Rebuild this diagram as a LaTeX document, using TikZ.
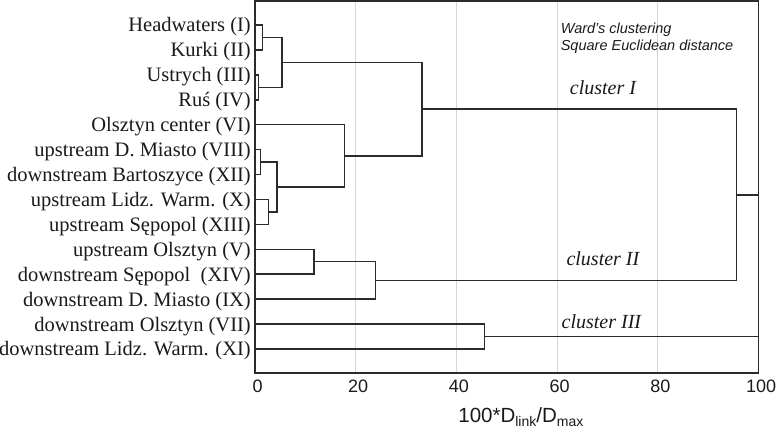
\documentclass[tikz,border=0pt]{standalone}
\usepackage{fontspec}
\setmainfont{Liberation Serif}
\setsansfont{Liberation Sans}
\usepackage{xcolor}
\usepackage{tikz}
\usetikzlibrary{positioning}
\definecolor{linkgray}{HTML}{2B2B2B}
\definecolor{gridgray}{HTML}{D6D6D6}
\definecolor{textblack}{HTML}{1A1A1A}
\newcommand{\lowsub}[1]{\raisebox{-4pt}{\fontsize{14}{14}\selectfont #1}}

\begin{document}
\begin{tikzpicture}[
  x=5.035pt, y=-1pt,
  leafname/.style={anchor=base east, inner sep=0pt, yshift=-7pt,
               text=textblack, font=\fontsize{20.5}{24}\selectfont},
  branch/.style={line width=1.5pt, color=linkgray},
  plotframe/.style={line width=1.6pt, color=linkgray},
  gridline/.style={line width=1.2pt, color=gridgray},
  ticklabel/.style={anchor=base, inner sep=0pt, text=textblack,
               font=\sffamily\fontsize{18}{20}\selectfont},
  clustername/.style={anchor=base, inner sep=0pt, text=textblack,
               font=\itshape\fontsize{20}{24}\selectfont},
  method/.style={anchor=base west, inner sep=0pt, text=textblack,
               font=\sffamily\itshape\fontsize{14.5}{16}\selectfont},
]
\useasboundingbox (-255pt,0pt) rectangle (525pt,-430pt);

% grid lines
\foreach \v in {20,40,60,80}
  \draw[gridline] (\v,1) -- (\v,373);

% leaves
\foreach \lab [count=\i] in {Headwaters (I), Kurki (II), Ustrych (III), Ruś (IV),
    Olsztyn center (VI), upstream D. Miasto (VIII), downstream Bartoszyce (XII),
    upstream Lidz. Warm. (X), upstream Sępopol (XIII), upstream Olsztyn (V),
    downstream Sępopol \ (XIV), downstream D. Miasto (IX),
    downstream Olsztyn (VII), downstream Lidz. Warm. (XI)}{
  \coordinate (l\i) at (0,{25+24.92*(\i-1)});
  \node[leafname] (n\i) at (-0.8,{25+24.92*(\i-1)}) {\lab};
}

% merge points
\coordinate (m1)  at (1.5,37.46);
\coordinate (m2)  at (0.7,87.30);
\coordinate (m3)  at (5.4,62.38);
\coordinate (m4)  at (1.1,162.06);
\coordinate (m5)  at (2.7,211.90);
\coordinate (m6)  at (4.4,186.98);
\coordinate (m7)  at (17.8,155.83);
\coordinate (m8)  at (33.2,109.10);
\coordinate (m9)  at (11.7,261.74);
\coordinate (m10) at (23.9,280.43);
\coordinate (m11) at (95.6,194.77);
\coordinate (m12) at (45.6,336.50);
\coordinate (m13) at (100,265.60);

\draw[branch] (l1)  -| (m1)  |- (l2);
\draw[branch] (l3)  -| (m2)  |- (l4);
\draw[branch] (m1)  -| (m3)  |- (m2);
\draw[branch] (l6)  -| (m4)  |- (l7);
\draw[branch] (l8)  -| (m5)  |- (l9);
\draw[branch] (m4)  -| (m6)  |- (m5);
\draw[branch] (l5)  -| (m7)  |- (m6);
\draw[branch] (m3)  -| (m8)  |- (m7);
\draw[branch] (l10) -| (m9)  |- (l11);
\draw[branch] (m9)  -| (m10) |- (l12);
\draw[branch] (m8)  -| (m11) |- (m10);
\draw[branch] (l13) -| (m12) |- (l14);
\draw[branch] (m11) -| (m13) |- (m12);

\draw[plotframe] (0,1) rectangle (100,373);

% axis
\foreach \v in {0,20,40,60,80,100}
  \node[ticklabel] (t\v) at (\v+0.5,392.5) {\v};
\node[anchor=base, inner sep=0pt, text=textblack,
      font=\sffamily\fontsize{20.5}{24}\selectfont] (xlab) at (52.8,422.5)
  {100*D\lowsub{link}/D\lowsub{max}};

\node[clustername] (c1) at (69.1,95)    {cluster I};
\node[clustername] (c2) at (69.1,265.7) {cluster II};
\node[clustername] (c3) at (68.8,328.3) {cluster III};

\node[method] (w1) at (60.7,34)   {Ward's clustering};
\node[method] (w2) at (60.7,50.7) {Square Euclidean distance};
\end{tikzpicture}
\end{document}
